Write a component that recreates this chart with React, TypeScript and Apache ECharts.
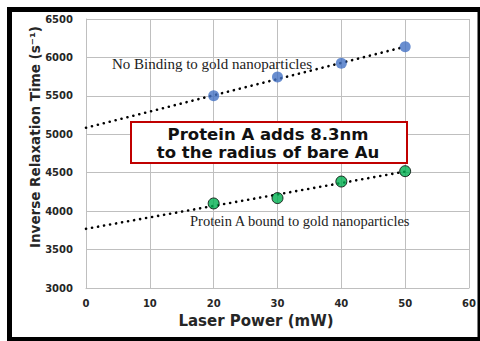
import React, { useEffect, useRef } from "react";
import * as echarts from "echarts";

const laserPower = [20, 30, 40, 50];
const noBinding = [5500, 5745, 5925, 6140];
const proteinBound = [4100, 4170, 4385, 4520];
const noBindingTrend = [[0, 5085], [50, 6140]];
const proteinTrend = [[0, 3770], [50, 4515]];
const xTicks = [0, 10, 20, 30, 40, 50, 60];
const yTicks = [3000, 3500, 4000, 4500, 5000, 5500, 6000, 6500];

export default function App() {
  const ref = useRef<HTMLDivElement>(null);
  useEffect(() => {
    const chart = echarts.init(ref.current!, null, { renderer: "svg" });
    const tickFont = { fontFamily: "DejaVu Sans", fontWeight: "bold" as const, fontSize: 10, color: "#262626" };
    chart.setOption({
      animation: false,
      backgroundColor: "#ffffff",
      grid: { left: 86, right: 11, top: 19, bottom: 53 },
      xAxis: {
        type: "value",
        min: xTicks[0],
        max: xTicks[xTicks.length - 1],
        interval: 10,
        axisLine: { show: true, lineStyle: { color: "#bfbfbf" } },
        axisTick: { show: false },
        splitLine: { show: true, lineStyle: { color: "#bfbfbf", width: 1 } },
        axisLabel: { ...tickFont, margin: 10, formatter: (v: number) => String(v) },
      },
      yAxis: {
        type: "value",
        min: yTicks[0],
        max: yTicks[yTicks.length - 1],
        interval: 500,
        axisLine: { show: true, lineStyle: { color: "#bfbfbf" } },
        axisTick: { show: false },
        splitLine: { show: true, lineStyle: { color: "#bfbfbf", width: 1 } },
        axisLabel: { ...tickFont, margin: 13, formatter: (v: number) => String(v) },
      },
      series: [
        {
          type: "line",
          data: noBindingTrend,
          symbol: "none",
          lineStyle: { color: "#000", width: 2.6, type: [0.1, 6], cap: "round" },
          z: 2,
        },
        {
          type: "line",
          data: proteinTrend,
          symbol: "none",
          lineStyle: { color: "#000", width: 2.6, type: [0.1, 6], cap: "round" },
          z: 2,
        },
        {
          type: "scatter",
          data: laserPower.map((x, i) => [x, noBinding[i]]),
          symbolSize: 11,
          itemStyle: { color: "#4472c4" },
          z: 3,
        },
        {
          type: "scatter",
          data: laserPower.map((x, i) => [x, proteinBound[i]]),
          symbolSize: 11,
          itemStyle: { color: "#00b050", borderColor: "#000", borderWidth: 1 },
          z: 3,
        },
      ],
      graphic: [
        {
          type: "text",
          x: 112,
          y: 64,
          style: { text: "No Binding to gold nanoparticles", fontFamily: "Liberation Serif", fontSize: 15, fill: "#222", verticalAlign: "middle" },
          z: 10,
        },
        {
          type: "text",
          x: 190,
          y: 221,
          style: { text: "Protein A bound to gold nanoparticles", fontFamily: "Liberation Serif", fontSize: 14.5, fill: "#222", verticalAlign: "middle" },
          z: 10,
        },
        {
          type: "rect",
          shape: { x: 131, y: 122, width: 276, height: 41 },
          style: { fill: "#ffffff", stroke: "#c00000", lineWidth: 2 },
          z: 10,
        },
        {
          type: "text",
          x: 268,
          y: 143,
          style: {
            text: "Protein A adds 8.3nm\nto the radius of bare Au",
            fontFamily: "DejaVu Sans",
            fontWeight: "bold",
            fontSize: 16.5,
            lineHeight: 18,
            fill: "#111",
            align: "center",
            verticalAlign: "middle",
          },
          z: 11,
        },
        {
          type: "text",
          x: 256,
          y: 321,
          style: {
            text: "Laser Power (mW)",
            fontFamily: "DejaVu Sans",
            fontWeight: "bold",
            fontSize: 15,
            fill: "#262626",
            align: "center",
            verticalAlign: "middle",
          },
          z: 10,
        },
        {
          type: "text",
          x: 35,
          y: 137,
          rotation: Math.PI / 2,
          style: {
            text: "Inverse Relaxation Time (s⁻¹)",
            fontFamily: "DejaVu Sans",
            fontWeight: "bold",
            fontSize: 13.5,
            fill: "#262626",
            align: "center",
            verticalAlign: "middle",
          },
          z: 10,
        },
        {
          type: "rect",
          shape: { x: 9.5, y: 9.5, width: 470.5, height: 330 },
          style: { fill: "none", stroke: "#000", lineWidth: 5 },
          z: 20,
        },
      ],
    });
    return () => chart.dispose();
  }, []);
  return <div ref={ref} style={{ width: 480, height: 341, position: "absolute", left: 0, top: 0 }} />;
}
